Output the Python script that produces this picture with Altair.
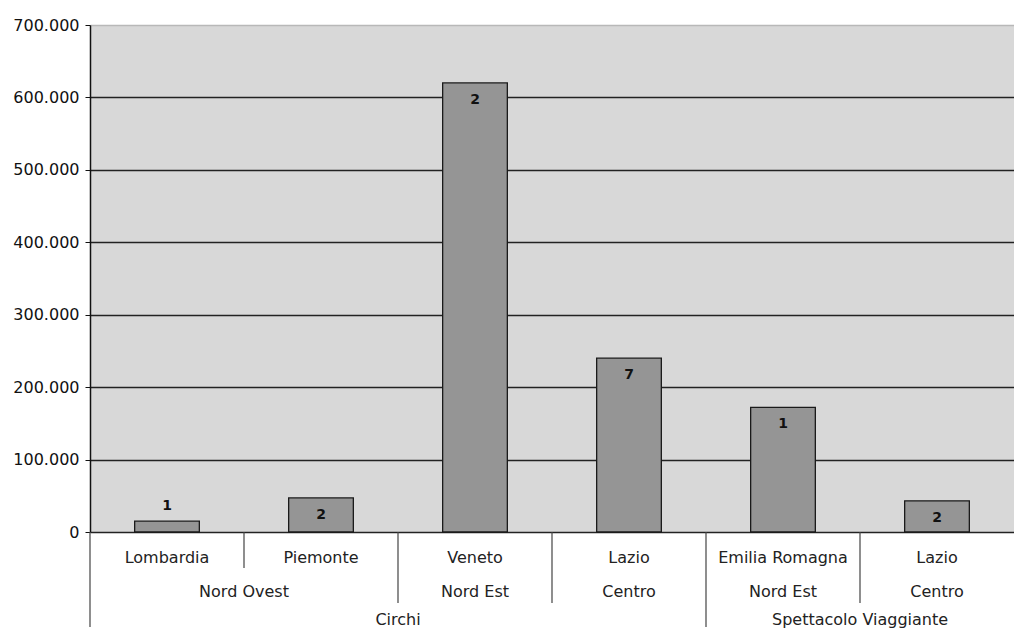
import altair as alt
import pandas as pd

# ---- data ----
regions = ["Lombardia", "Piemonte", "Veneto", "Lazio", "Emilia Romagna", "Lazio"]
zones = ["Nord Ovest", "Nord Ovest", "Nord Est", "Centro", "Nord Est", "Centro"]
types = ["Circhi", "Circhi", "Circhi", "Circhi",
         "Spettacolo Viaggiante", "Spettacolo Viaggiante"]
values = [15000, 47000, 620000, 240000, 172000, 43000]
counts = [1, 2, 2, 7, 1, 2]
y_ticks = [0, 100000, 200000, 300000, 400000, 500000, 600000, 700000]

W, H = 924, 507
n = len(regions)
FONT = "DejaVu Sans"

df = pd.DataFrame({"pos": list(range(n)), "region": regions, "zone": zones,
                   "type": types, "value": values, "count": counts})
df["x0"] = df["pos"] + 0.29
df["x1"] = df["pos"] + 0.71
df["xc"] = df["pos"] + 0.5


def spans(keys, labels):
    out = []
    start = 0
    for i in range(1, n + 1):
        if i == n or keys[i] != keys[start]:
            out.append({"label": labels[start], "xc": (start + i) / 2})
            start = i
    return out


zone_df = pd.DataFrame(spans(list(zip(types, zones)), zones))
type_df = pd.DataFrame(spans(types, types))

div_rows = [{"b": 0, "level": 3}]
for b in range(1, n):
    if types[b] != types[b - 1]:
        lvl = 3
    elif zones[b] != zones[b - 1]:
        lvl = 2
    else:
        lvl = 1
    div_rows.append({"b": b, "level": lvl})
div_df = pd.DataFrame(div_rows)

xscale = alt.Scale(domain=[0, n], nice=False, zero=False)
yscale = alt.Scale(domain=[0, 700000], nice=False)

base = alt.Chart(df)

bars = base.mark_bar(color="#959595", stroke="#1a1a1a", strokeWidth=1.3).encode(
    x=alt.X("x0:Q", scale=xscale, axis=None),
    x2="x1:Q",
    y=alt.Y("value:Q", scale=yscale, title=None,
            axis=alt.Axis(values=y_ticks,
                          labelExpr="replace(format(datum.value, ','), ',', '.')",
                          labelFont=FONT, labelFontSize=16, labelColor="#111",
                          labelPadding=6, tickSize=5, tickColor="#111",
                          domainColor="#111", domainWidth=1.5,
                          grid=True, gridWidth=1.5,
                          gridColor=alt.condition("datum.value >= 700000",
                                                  alt.value("#b8b8b8"),
                                                  alt.value("#222222")))),
    y2=alt.datum(0),
)

lab_in = base.transform_filter("datum.value >= 30000").mark_text(
    font=FONT, fontSize=14, fontWeight="bold", color="#111", dy=17
).encode(x=alt.X("xc:Q", scale=xscale), y=alt.Y("value:Q", scale=yscale),
         text="count:N")

lab_out = base.transform_filter("datum.value < 30000").mark_text(
    font=FONT, fontSize=14, fontWeight="bold", color="#111", dy=-15
).encode(x=alt.X("xc:Q", scale=xscale), y=alt.Y("value:Q", scale=yscale),
         text="count:N")

row1 = base.mark_text(font=FONT, fontSize=16, color="#222").encode(
    x=alt.X("xc:Q", scale=xscale), y=alt.value(H + 26), text="region:N")

row2 = alt.Chart(zone_df).mark_text(font=FONT, fontSize=16, color="#222").encode(
    x=alt.X("xc:Q", scale=xscale), y=alt.value(H + 60), text="label:N")

row3 = alt.Chart(type_df).mark_text(font=FONT, fontSize=16, color="#222").encode(
    x=alt.X("xc:Q", scale=xscale), y=alt.value(H + 88), text="label:N")

depth = {1: 36, 2: 71, 3: 95}
dividers = []
for lvl, d in depth.items():
    dividers.append(
        alt.Chart(div_df).transform_filter(f"datum.level == {lvl}")
        .mark_rule(color="#444", strokeWidth=1.2)
        .encode(x=alt.X("b:Q", scale=xscale), y=alt.value(H), y2=alt.value(H + d))
    )

chart = alt.layer(bars, lab_in, lab_out, row1, row2, row3, *dividers).properties(
    width=W, height=H,
    padding={"top": 9, "left": 4, "right": 0, "bottom": 0},
).configure_view(fill="#d8d8d8", stroke=None)

chart.save("out.html", embed_options={"renderer": "svg", "actions": False})
